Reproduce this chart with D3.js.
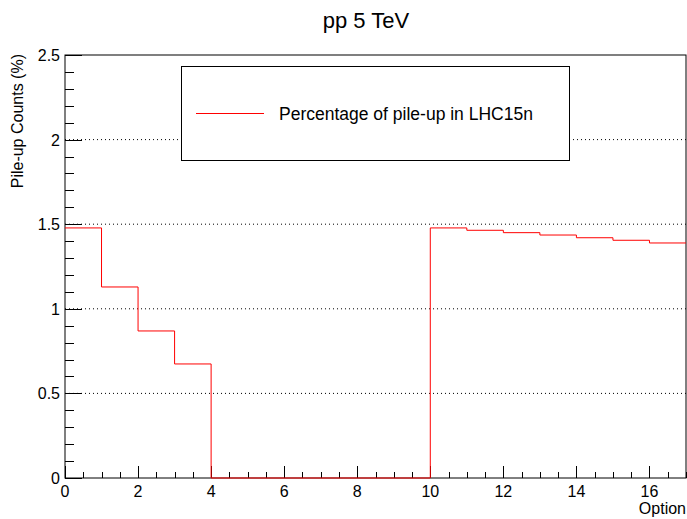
<!DOCTYPE html>
<html>
<head>
<meta charset="utf-8">
<script src="https://cdn.jsdelivr.net/npm/d3@7"></script>
<style>
  body { margin: 0; background: #fff; }
  text { font-family: "Liberation Sans", Arial, sans-serif; fill: #000; }
</style>
</head>
<body>
<div id="chart"></div>
<script>
// bin lower edges and contents (one bin per option)
var binEdges = [0, 1, 2, 3, 4, 5, 6, 7, 8, 9, 10, 11, 12, 13, 14, 15, 16, 17];
var pileUp = [1.478, 1.129, 0.869, 0.674, 0, 0, 0, 0, 0, 0, 1.478, 1.464, 1.450, 1.436, 1.420, 1.405, 1.389];
var xTicks = [0, 2, 4, 6, 8, 10, 12, 14, 16];
var yTicks = [0, 0.5, 1, 1.5, 2, 2.5];
var seriesName = "Percentage of pile-up in LHC15n";

var width = 687, height = 519;
var frame = { left: 65, right: 686, top: 55, bottom: 478 };

var svg = d3.select("#chart").append("svg")
    .attr("width", width)
    .attr("height", height);

var x = d3.scaleLinear().domain([0, 17]).range([frame.left, frame.right]);
var y = d3.scaleLinear().domain([0, 2.5]).range([frame.bottom, frame.top]);

// dotted grid lines at y majors
svg.append("g").selectAll("line")
    .data(yTicks.filter(function (d) { return d > 0 && d < 2.5; }))
    .enter().append("line")
    .attr("x1", frame.left).attr("x2", frame.right)
    .attr("y1", function (d) { return y(d); })
    .attr("y2", function (d) { return y(d); })
    .style("stroke", "#000")
    .style("stroke-width", 1)
    .style("stroke-dasharray", "1,3");

// frame
svg.append("rect")
    .attr("x", frame.left).attr("y", frame.top)
    .attr("width", frame.right - frame.left)
    .attr("height", frame.bottom - frame.top)
    .style("fill", "none")
    .style("stroke", "#000")
    .style("stroke-width", 1);

// y axis ticks (major + minor)
var yMinor = d3.range(0, 2.5001, 0.1);
svg.append("g").selectAll("line")
    .data(yMinor)
    .enter().append("line")
    .attr("x1", frame.left)
    .attr("x2", function (d) {
        var major = Math.abs(d * 2 - Math.round(d * 2)) < 1e-6;
        return frame.left + (major ? 17 : 9);
    })
    .attr("y1", function (d) { return Math.round(y(d)) + 0.5; })
    .attr("y2", function (d) { return Math.round(y(d)) + 0.5; })
    .style("stroke", "#000");

svg.append("g").selectAll("text")
    .data(yTicks)
    .enter().append("text")
    .attr("x", frame.left - 5)
    .attr("y", function (d) { return y(d) + 6; })
    .attr("text-anchor", "end")
    .style("font-size", "16px")
    .text(function (d) { return d3.format("")(d); });

// x axis ticks (major + minor)
var xMinor = d3.range(0, 17.0001, 0.5);
svg.append("g").selectAll("line")
    .data(xMinor)
    .enter().append("line")
    .attr("x1", function (d) { return Math.round(x(d)) + 0.5; })
    .attr("x2", function (d) { return Math.round(x(d)) + 0.5; })
    .attr("y1", frame.bottom)
    .attr("y2", function (d) {
        return frame.bottom - (d % 2 === 0 ? 12 : 6);
    })
    .style("stroke", "#000");

svg.append("g").selectAll("text")
    .data(xTicks)
    .enter().append("text")
    .attr("x", function (d) { return x(d); })
    .attr("y", frame.bottom + 19)
    .attr("text-anchor", "middle")
    .style("font-size", "16px")
    .text(function (d) { return d; });

// histogram outline
var pts = [];
pileUp.forEach(function (v, i) {
    pts.push([binEdges[i], v]);
    pts.push([binEdges[i + 1], v]);
});
var line = d3.line()
    .x(function (d) { return x(d[0]); })
    .y(function (d) { return y(d[1]); });
svg.append("path")
    .datum(pts)
    .attr("d", line)
    .style("fill", "none")
    .style("stroke", "#ff0000")
    .style("stroke-width", 1);

// title and axis titles
svg.append("text")
    .attr("x", 366).attr("y", 28)
    .attr("text-anchor", "middle")
    .style("font-size", "22px")
    .text("pp 5 TeV");

svg.append("text")
    .attr("transform", "translate(23," + (frame.top - 1) + ") rotate(-90)")
    .attr("text-anchor", "end")
    .style("font-size", "16px")
    .text("Pile-up Counts (%)");

svg.append("text")
    .attr("x", frame.right)
    .attr("y", 514)
    .attr("text-anchor", "end")
    .style("font-size", "16px")
    .text("Option");

// legend
var legend = svg.append("g");
legend.append("rect")
    .attr("x", 181.5).attr("y", 66.5)
    .attr("width", 388).attr("height", 94)
    .style("fill", "#fff")
    .style("stroke", "#000");
legend.append("line")
    .attr("x1", 196).attr("x2", 264)
    .attr("y1", 113.5).attr("y2", 113.5)
    .style("stroke", "#ff0000");
legend.append("text")
    .attr("x", 279).attr("y", 120)
    .style("font-size", "17.5px")
    .text(seriesName);
</script>
</body>
</html>
